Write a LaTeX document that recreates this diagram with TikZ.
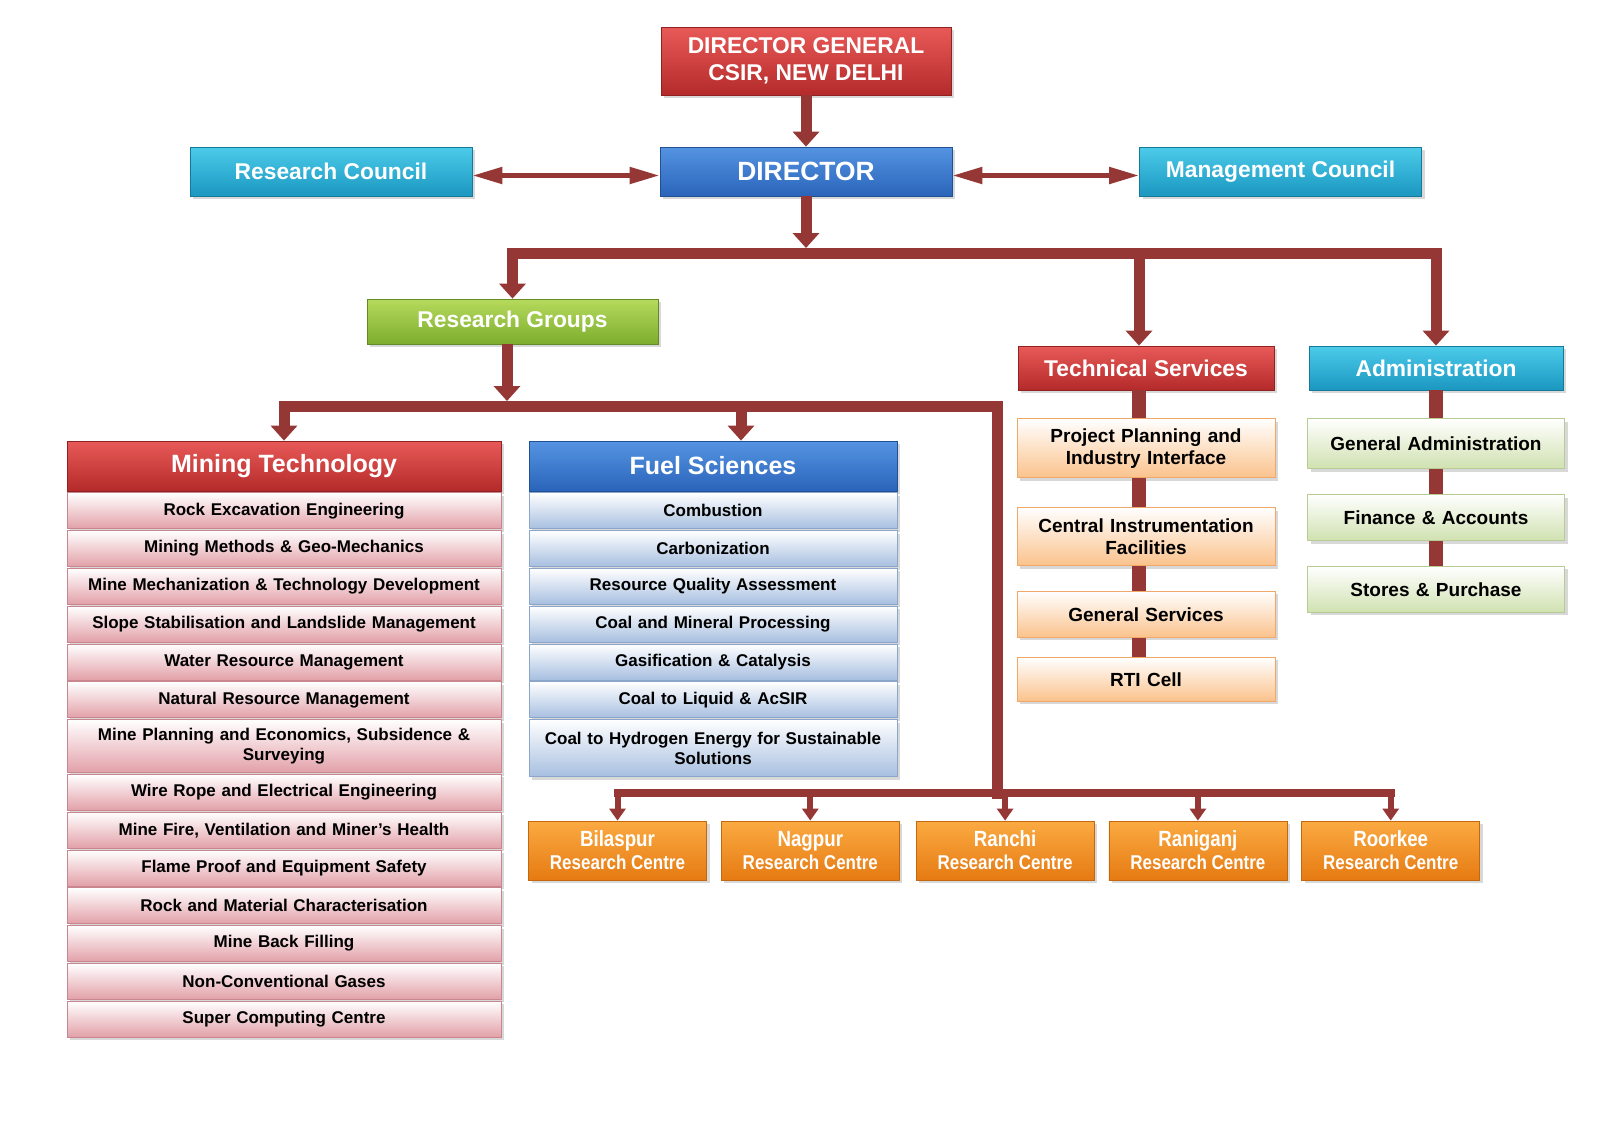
\documentclass[tikz,border=0pt]{standalone}
\usepackage{fontspec}
\setmainfont{Liberation Sans}
\newfontfamily\narrowsans[FakeStretch=0.85]{Liberation Sans}
\usetikzlibrary{arrows.meta, positioning, shadows}
\definecolor{linkred}{HTML}{953735}
\definecolor{redtop}{HTML}{E85A58}
\definecolor{redbot}{HTML}{B42A2A}
\definecolor{bluetop}{HTML}{5594E2}
\definecolor{bluebot}{HTML}{2A64BA}
\definecolor{cyantop}{HTML}{4CCBEA}
\definecolor{cyanbot}{HTML}{1B97C0}
\definecolor{greentop}{HTML}{B6DA5C}
\definecolor{greenbot}{HTML}{7DAD2E}
\definecolor{orangetop}{HTML}{FBAA42}
\definecolor{orangebot}{HTML}{E67A12}
\definecolor{pinkrow}{HTML}{E2A0A8}
\definecolor{pinkedge}{HTML}{C9868E}
\definecolor{bluerow}{HTML}{A7BFE0}
\definecolor{blueedge}{HTML}{8CA5CA}
\definecolor{peachrow}{HTML}{FBC28C}
\definecolor{peachedge}{HTML}{F0A868}
\definecolor{greenrow}{HTML}{D0E1B0}
\definecolor{greenedge}{HTML}{B6CC94}

\begin{document}
\begin{tikzpicture}[
    x=0.5pt, y=-0.5pt,
    node distance=0.5pt,
    box/.style={rectangle, align=center, inner xsep=4pt, inner ysep=2pt,
                drop shadow={opacity=0.3, shadow xshift=1.5pt, shadow yshift=-1.5pt}},
    topbox/.style={box, text=white, font=\fontsize{11.4}{13.5}\selectfont\bfseries},
    redbox/.style={topbox, top color=redtop, bottom color=redbot, draw=redbot!80!black},
    bluebox/.style={topbox, top color=bluetop, bottom color=bluebot, draw=bluebot!80!black},
    cyanbox/.style={topbox, top color=cyantop, bottom color=cyanbot, draw=cyanbot!80!black},
    greenbox/.style={topbox, top color=greentop, bottom color=greenbot, draw=greenbot!80!black},
    centrebox/.style={box, text=white, top color=orangetop, bottom color=orangebot,
                draw=orangebot!85!black, minimum width=89pt, minimum height=29.5pt,
                font=\narrowsans\fontsize{11}{11.5}\selectfont\bfseries},
    mrow/.style={box, top color=white, bottom color=pinkrow, draw=pinkedge, text width=209pt,
                minimum height=18pt, font=\fontsize{8.5}{10}\selectfont\bfseries},
    frow/.style={box, top color=white, bottom color=bluerow, draw=blueedge, text width=176pt,
                minimum height=18pt, font=\fontsize{8.5}{10}\selectfont\bfseries},
    trow/.style={box, top color=white, bottom color=peachrow, draw=peachedge, text width=121pt,
                font=\fontsize{9.5}{11}\selectfont\bfseries},
    arow/.style={box, top color=white, bottom color=greenrow, draw=greenedge, text width=120.5pt,
                minimum height=23pt, font=\fontsize{9.5}{11}\selectfont\bfseries},
    arrow/.style={linkred, line width=5.5pt, -{Triangle[width=13pt, length=7.5pt]}},
    bar/.style={linkred, line width=5.5pt, line cap=rect, line join=miter},
    link/.style={linkred, line width=7pt},
    twoway/.style={linkred, line width=2.5pt,
                {Triangle[width=8pt, length=15pt]}-{Triangle[width=8pt, length=15pt]}},
    thinbar/.style={linkred, line width=4pt, line cap=rect, line join=miter},
    thinarrow/.style={linkred, line width=3pt, -{Triangle[width=8pt, length=6pt]}}
]
    \fill[white] (0,0) rectangle (1600,1131);
    \useasboundingbox (0,0) rectangle (1600,1131);

    % Top levels
    \node[redbox, minimum width=145pt, minimum height=34pt] (dg) at (806,61) {DIRECTOR GENERAL\\CSIR, NEW DELHI};
    \node[bluebox, minimum width=146pt, minimum height=24.5pt, font=\fontsize{13.2}{15}\selectfont\bfseries] (dir) at (806,171.5) {DIRECTOR};
    \node[cyanbox, minimum width=141pt, minimum height=24.5pt] (rcouncil) at (331,171.5) {Research Council};
    \node[cyanbox, minimum width=141pt, minimum height=24.5pt] (mcouncil) at (1280.5,171.5) {Management Council};
    \node[greenbox, minimum width=145.5pt, minimum height=22.5pt] (rg) at (512.5,321.5) {Research Groups};
    \node[redbox, minimum width=128pt, minimum height=22pt] (ts) at (1146,368) {Technical Services};
    \node[cyanbox, minimum width=127pt, minimum height=22pt] (adm) at (1436,368) {Administration};

    % Mining Technology
    \node[redbox, minimum width=217pt, minimum height=25pt, font=\fontsize{12.5}{14}\selectfont\bfseries] (mt) at (284,466) {Mining Technology};
    \node[mrow, below=0.5pt of mt] (rex) {Rock Excavation Engineering};
    \node[mrow, below=of rex] (mmg) {Mining Methods \& Geo-Mechanics};
    \node[mrow, below=of mmg] (mmt) {Mine Mechanization \& Technology Development};
    \node[mrow, below=of mmt] (ssl) {Slope Stabilisation and Landslide Management};
    \node[mrow, below=of ssl] (wrm) {Water Resource Management};
    \node[mrow, below=of wrm] (nrm) {Natural Resource Management};
    \node[mrow, below=of nrm, minimum height=26.5pt] (mpe) {Mine Planning and Economics, Subsidence \&\\Surveying};
    \node[mrow, below=of mpe] (wre) {Wire Rope and Electrical Engineering};
    \node[mrow, below=of wre] (mfv) {Mine Fire, Ventilation and Miner’s Health};
    \node[mrow, below=of mfv] (fps) {Flame Proof and Equipment Safety};
    \node[mrow, below=of fps] (rmc) {Rock and Material Characterisation};
    \node[mrow, below=of rmc] (mbf) {Mine Back Filling};
    \node[mrow, below=of mbf] (ncg) {Non-Conventional Gases};
    \node[mrow, below=of ncg] (scc) {Super Computing Centre};

    % Fuel Sciences
    \node[bluebox, minimum width=184pt, minimum height=25pt, font=\fontsize{12.5}{14}\selectfont\bfseries] (fs) at (713,466) {Fuel Sciences};
    \node[frow, below=0.5pt of fs] (comb) {Combustion};
    \node[frow, below=of comb] (carb) {Carbonization};
    \node[frow, below=of carb] (rqa) {Resource Quality Assessment};
    \node[frow, below=of rqa] (cmp) {Coal and Mineral Processing};
    \node[frow, below=of cmp] (gcat) {Gasification \& Catalysis};
    \node[frow, below=of gcat] (ctl) {Coal to Liquid \& AcSIR};
    \node[frow, below=of ctl, minimum height=28.5pt] (cth) {Coal to Hydrogen Energy for Sustainable\\Solutions};

    % Technical Services
    \node[trow, below=14pt of ts, minimum height=29.5pt] (ppi) {Project Planning and\\Industry Interface};
    \node[trow, below=14.5pt of ppi, minimum height=29pt] (cif) {Central Instrumentation\\Facilities};
    \node[trow, below=12.5pt of cif, minimum height=23pt] (gs) {General Services};
    \node[trow, below=9.5pt of gs, minimum height=22pt] (rti) {RTI Cell};

    % Administration
    \node[arow, below=14pt of adm, minimum height=25pt] (ga) {General Administration};
    \node[arow, below=12.5pt of ga] (fa) {Finance \& Accounts};
    \node[arow, below=12.5pt of fa] (sp) {Stores \& Purchase};

    % Research centres
    \node[centrebox] (bil) at (617.5,850.5) {Bilaspur\\{\fontsize{10}{11}\selectfont Research Centre}};
    \node[centrebox, right=7pt of bil] (nag) {Nagpur\\{\fontsize{10}{11}\selectfont Research Centre}};
    \node[centrebox, right=8pt of nag] (ran) {Ranchi\\{\fontsize{10}{11}\selectfont Research Centre}};
    \node[centrebox, right=7pt of ran] (rgj) {Raniganj\\{\fontsize{10}{11}\selectfont Research Centre}};
    \node[centrebox, right=7pt of rgj] (roo) {Roorkee\\{\fontsize{10}{11}\selectfont Research Centre}};

    % Bus points
    \coordinate (mainbus) at (806,253);
    \coordinate (tsin) at (1139,253);
    \coordinate (rgbus) at (507,406);
    \coordinate (rgbusR) at (997,406);
    \coordinate (rcbus) at (997,793);
    \coordinate (fsin) at (741,406);

    % Arrows
    \draw[arrow] (dg) -- (dir);
    \draw[twoway] ([yshift=-2pt]rcouncil.east) -- ([yshift=-2pt]rcouncil.east -| dir.west);
    \draw[twoway] ([yshift=-2pt]dir.east) -- ([yshift=-2pt]dir.east -| mcouncil.west);
    \draw[bar] (rg.north |- mainbus) -- (adm.north |- mainbus);
    \draw[arrow] (dir.south) -- ([yshift=2.5pt]mainbus);
    \draw[arrow] (rg.north |- mainbus) -- (rg.north);
    \draw[arrow] (tsin) -- (tsin |- ts.north);
    \draw[arrow] (adm.north |- mainbus) -- (adm.north);

    \draw[bar] (mt.north |- rgbus) -- (rgbusR) -- (rcbus);
    \draw[arrow] (rg.south -| rgbus) -- ([yshift=2.5pt]rgbus);
    \draw[arrow] (mt.north |- rgbus) -- (mt.north);
    \draw[arrow] (fsin) -- (fsin |- fs.north);

    \draw[thinbar] (bil.north |- rcbus) -- (roo.north |- rcbus);
    \draw[thinarrow] (bil.north |- rcbus) -- (bil.north);
    \draw[thinarrow] (nag.north |- rcbus) -- (nag.north);
    \draw[thinarrow] (ran.north |- rcbus) -- (ran.north);
    \draw[thinarrow] (rgj.north |- rcbus) -- (rgj.north);
    \draw[thinarrow] (roo.north |- rcbus) -- (roo.north);

    % Column links
    \draw[link] (tsin |- ts.south) -- (tsin |- ppi.north);
    \draw[link] (tsin |- ppi.south) -- (tsin |- cif.north);
    \draw[link] (tsin |- cif.south) -- (tsin |- gs.north);
    \draw[link] (tsin |- gs.south) -- (tsin |- rti.north);
    \draw[link] (adm) -- (ga);
    \draw[link] (ga) -- (fa);
    \draw[link] (fa) -- (sp);
\end{tikzpicture}
\end{document}
